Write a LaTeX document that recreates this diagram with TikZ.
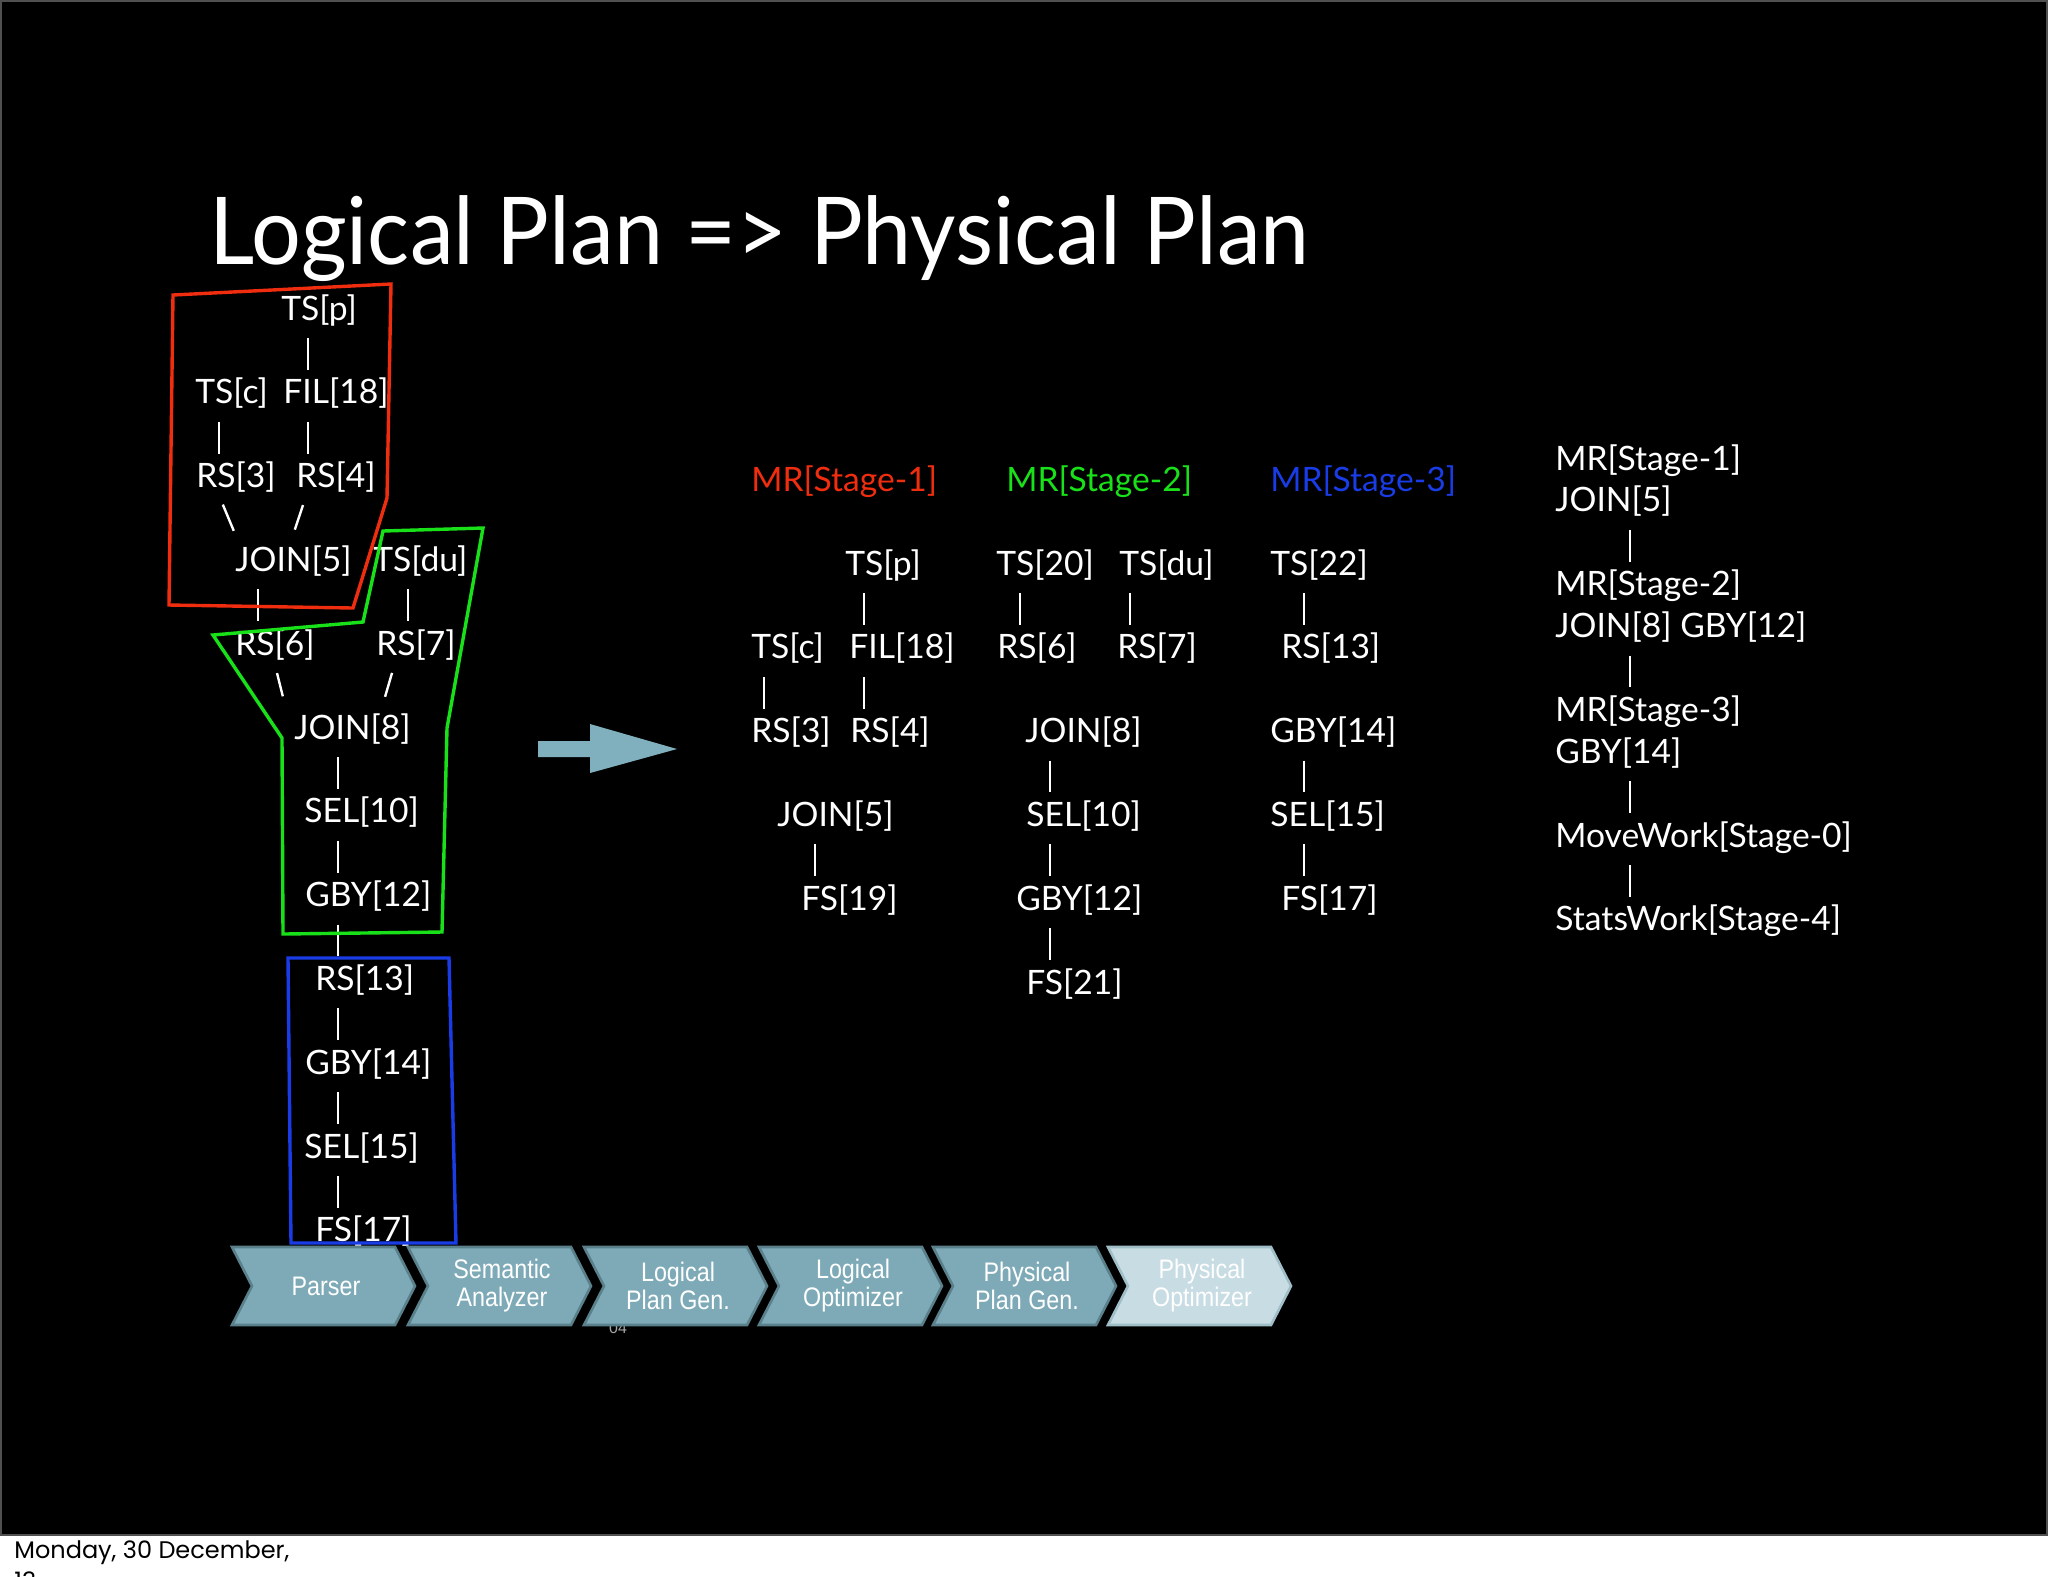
\documentclass[tikz,border=0pt]{standalone}
\usepackage{fontspec}
\setmainfont{Lato}
\newfontfamily\titlefont[FakeStretch=0.94]{Lato}
\newfontfamily\chevfont[FakeStretch=0.87]{Liberation Sans}
\newfontfamily\smallfont{Liberation Sans}
\newfontfamily\datefont{Poppins}
\definecolor{stred}{RGB}{240,45,15}
\definecolor{stgreen}{RGB}{25,225,25}
\definecolor{stblue}{RGB}{25,60,230}
\definecolor{chevfill}{RGB}{126,170,184}
\definecolor{chevline}{RGB}{90,128,140}
\definecolor{chevlite}{RGB}{200,220,227}
\definecolor{chevlitel}{RGB}{160,190,200}
\definecolor{arrowc}{RGB}{128,176,190}
\definecolor{frame}{RGB}{80,80,80}
\begin{document}
\begin{tikzpicture}[x=0.5pt,y=-0.5pt,
  txt/.style={anchor=base west, inner sep=0, text=white, font=\fontsize{16.8}{20}\selectfont},
  vbar/.style={draw=white, line width=1.35pt, shorten <=9pt, shorten >=17pt},
  slash/.style={draw=white, line width=1.2pt, shorten <=9.2pt, shorten >=22pt},
  region/.style={line width=1.7pt, line join=miter},
  chevtxt/.style={text=white, align=center, inner sep=0, font=\chevfont\fontsize{13.4}{14}\selectfont}]
\useasboundingbox (0,0) rectangle (2048,1576);
\fill[white] (0,0) rectangle (2048,1576);
\filldraw[fill=black, draw=frame, line width=1pt] (1,1) rectangle (2047,1535);

% title
\node[anchor=base west, inner sep=0, text=white, font=\titlefont\fontsize{46.8}{52}\selectfont] (title) at (209,264) {Logical Plan => Physical Plan};

% ---------- left tree ----------
\node[txt] (Ltsp) at (281,320) {TS[p]};
\node[txt] (Ltsc) at (195,403.8) {TS[c]};
\node[txt] (Lfil) at (283,403.8) {FIL[18]};
\node[txt] (Lrs3) at (196,487.6) {RS[3]};
\node[txt] (Lrs4) at (296,487.6) {RS[4]};
\node[txt] (Lj5) at (235,571.4) {JOIN[5]};
\node[txt] (Ltsdu) at (373,571.4) {TS[du]};
\node[txt] (Lrs6) at (235,655.2) {RS[6]};
\node[txt] (Lrs7) at (376,655.2) {RS[7]};
\node[txt] (Lj8) at (294,739) {JOIN[8]};
\node[txt] (Lsel10) at (304,822.8) {SEL[10]};
\node[txt] (Lgby12) at (305,906.6) {GBY[12]};
\node[txt] (Lrs13) at (315,990.4) {RS[13]};
\node[txt] (Lgby14) at (305,1074.2) {GBY[14]};
\node[txt] (Lsel15) at (304,1158) {SEL[15]};
\node[txt] (Lfs17) at (315,1241.8) {FS[17]};

\coordinate (xa) at (308,0);
\coordinate (xb) at (219,0);
\coordinate (xc) at (258,0);
\coordinate (xd) at (408,0);
\coordinate (xe) at (338,0);
\draw[vbar] (Ltsp.base -| xa) -- (Lfil.base -| xa);
\draw[vbar] (Ltsc.base -| xb) -- (Lrs3.base -| xb);
\draw[vbar] (Lfil.base -| xa) -- (Lrs4.base -| xa);
\draw[vbar] (Lj5.base -| xc) -- (Lrs6.base -| xc);
\draw[vbar] (Ltsdu.base -| xd) -- (Lrs7.base -| xd);
\draw[vbar] (Lj8.base -| xe) -- (Lsel10.base -| xe);
\draw[vbar] (Lsel10.base -| xe) -- (Lgby12.base -| xe);
\draw[vbar] (Lgby12.base -| xe) -- (Lrs13.base -| xe);
\draw[vbar] (Lrs13.base -| xe) -- (Lgby14.base -| xe);
\draw[vbar] (Lgby14.base -| xe) -- (Lsel15.base -| xe);
\draw[vbar] (Lsel15.base -| xe) -- (Lfs17.base -| xe);

\coordinate (s1a) at (215.75,0); \coordinate (s1b) at (250.7,0);
\coordinate (s2a) at (308.8,0);  \coordinate (s2b) at (280.9,0);
\coordinate (s3a) at (272.55,0); \coordinate (s3b) at (293.5,0);
\coordinate (s4a) at (397.2,0);  \coordinate (s4b) at (372.75,0);
\draw[slash] (Lrs3.base -| s1a) -- (Lj5.base -| s1b);
\draw[slash] (Lrs4.base -| s2a) -- (Lj5.base -| s2b);
\draw[slash] (Lrs6.base -| s3a) -- (Lj8.base -| s3b);
\draw[slash] (Lrs7.base -| s4a) -- (Lj8.base -| s4b);

% stage regions
\draw[region, stred] (173,295) -- (391,284) -- (387,498) -- (353,608) -- (169,605) -- cycle;
\draw[region, stgreen] (383,531) -- (483,528) -- (447,728) -- (442,932) -- (283,934) -- (282,738) -- (213,635) -- (363,622) -- cycle;
\draw[region, stblue] (288,958) -- (449,958) -- (456,1243) -- (291,1243) -- cycle;

% big arrow
\fill[arrowc] (538,741) -- (590,741) -- (590,724) -- (677,749) -- (590,773) -- (590,757) -- (538,757) -- cycle;

% ---------- middle: MR stages ----------
\node[txt, text=stred] (M1) at (751,491) {MR[Stage-1]};
\node[txt, text=stgreen] (M2) at (1006,491) {MR[Stage-2]};
\node[txt, text=stblue] (M3) at (1270,491) {MR[Stage-3]};

% stage 1
\node[txt] (Atsp) at (845,575) {TS[p]};
\node[txt] (Atsc) at (751,658.8) {TS[c]};
\node[txt] (Afil) at (849,658.8) {FIL[18]};
\node[txt] (Ars3) at (751,742.6) {RS[3]};
\node[txt] (Ars4) at (850,742.6) {RS[4]};
\node[txt] (Aj5) at (777,826.4) {JOIN[5]};
\node[txt] (Afs19) at (801,910.2) {FS[19]};
\coordinate (xf) at (864,0);
\coordinate (xg) at (764,0);
\coordinate (xh) at (815,0);
\draw[vbar] (Atsp.base -| xf) -- (Afil.base -| xf);
\draw[vbar] (Atsc.base -| xg) -- (Ars3.base -| xg);
\draw[vbar] (Afil.base -| xf) -- (Ars4.base -| xf);
\draw[vbar] (Aj5.base -| xh) -- (Afs19.base -| xh);

% stage 2
\node[txt] (Bts20) at (996,575) {TS[20]};
\node[txt] (Btsdu) at (1119,575) {TS[du]};
\node[txt] (Brs6) at (997,658.8) {RS[6]};
\node[txt] (Brs7) at (1117,658.8) {RS[7]};
\node[txt] (Bj8) at (1025,742.6) {JOIN[8]};
\node[txt] (Bsel10) at (1026,826.4) {SEL[10]};
\node[txt] (Bgby12) at (1016,910.2) {GBY[12]};
\node[txt] (Bfs21) at (1026,994) {FS[21]};
\coordinate (xi) at (1020,0);
\coordinate (xj) at (1130,0);
\coordinate (xk) at (1050,0);
\draw[vbar] (Bts20.base -| xi) -- (Brs6.base -| xi);
\draw[vbar] (Btsdu.base -| xj) -- (Brs7.base -| xj);
\draw[vbar] (Bj8.base -| xk) -- (Bsel10.base -| xk);
\draw[vbar] (Bsel10.base -| xk) -- (Bgby12.base -| xk);
\draw[vbar] (Bgby12.base -| xk) -- (Bfs21.base -| xk);

% stage 3
\node[txt] (Cts22) at (1270,575) {TS[22]};
\node[txt] (Crs13) at (1281,658.8) {RS[13]};
\node[txt] (Cgby14) at (1270,742.6) {GBY[14]};
\node[txt] (Csel15) at (1270,826.4) {SEL[15]};
\node[txt] (Cfs17) at (1281,910.2) {FS[17]};
\coordinate (xl) at (1304,0);
\draw[vbar] (Cts22.base -| xl) -- (Crs13.base -| xl);
\draw[vbar] (Cgby14.base -| xl) -- (Csel15.base -| xl);
\draw[vbar] (Csel15.base -| xl) -- (Cfs17.base -| xl);

% ---------- right: task chain ----------
\node[txt] (Rmr1) at (1555,470) {MR[Stage-1]};
\node[txt] (Rj5) at (1555,511.9) {JOIN[5]};
\node[txt] (Rmr2) at (1555,595.7) {MR[Stage-2]};
\node[txt] (Rj8) at (1555,637.6) {JOIN[8] GBY[12]};
\node[txt] (Rmr3) at (1555,721.4) {MR[Stage-3]};
\node[txt] (Rgby14) at (1555,763.3) {GBY[14]};
\node[txt] (Rmove) at (1555,847.1) {MoveWork[Stage-0]};
\node[txt] (Rstats) at (1555,930.9) {StatsWork[Stage-4]};
\coordinate (xm) at (1630,0);
\draw[vbar] (Rj5.base -| xm) -- (Rmr2.base -| xm);
\draw[vbar] (Rj8.base -| xm) -- (Rmr3.base -| xm);
\draw[vbar] (Rgby14.base -| xm) -- (Rmove.base -| xm);
\draw[vbar] (Rmove.base -| xm) -- (Rstats.base -| xm);

% page number remnant
\node[text=gray!70, inner sep=0, font=\smallfont\fontsize{8}{9}\selectfont] (pnum) at (618,1328) {04};

% ---------- chevrons ----------
\foreach \L/\T/\F/\D [count=\i] in {232/{Parser}/chevfill/chevline,
    408/{Semantic\\Analyzer}/chevfill/chevline,
    584/{Logical\\Plan Gen.}/chevfill/chevline,
    759/{Logical\\Optimizer}/chevfill/chevline,
    933/{Physical\\Plan Gen.}/chevfill/chevline,
    1108/{Physical\\Optimizer}/chevlite/chevlitel} {
  \filldraw[fill=\F, draw=\D, line width=1.3pt, line join=miter]
    (\L,1247) -- ++(163,0) -- ++(20,39) -- ++(-20,39) -- ++(-163,0) -- ++(20,-39) -- cycle;
  \node[chevtxt] (chev\i) at (\L+94,1286) {\T};
}

% date footer
\node[anchor=base west, inner sep=0, text=black, font=\datefont\fontsize{12}{14}\selectfont] (date) at (14,1558) {Monday, 30 December,};
\node[anchor=base west, inner sep=0, text=black, font=\datefont\fontsize{12}{14}\selectfont] (year) at (14,1589) {13};
\end{tikzpicture}
\end{document}
